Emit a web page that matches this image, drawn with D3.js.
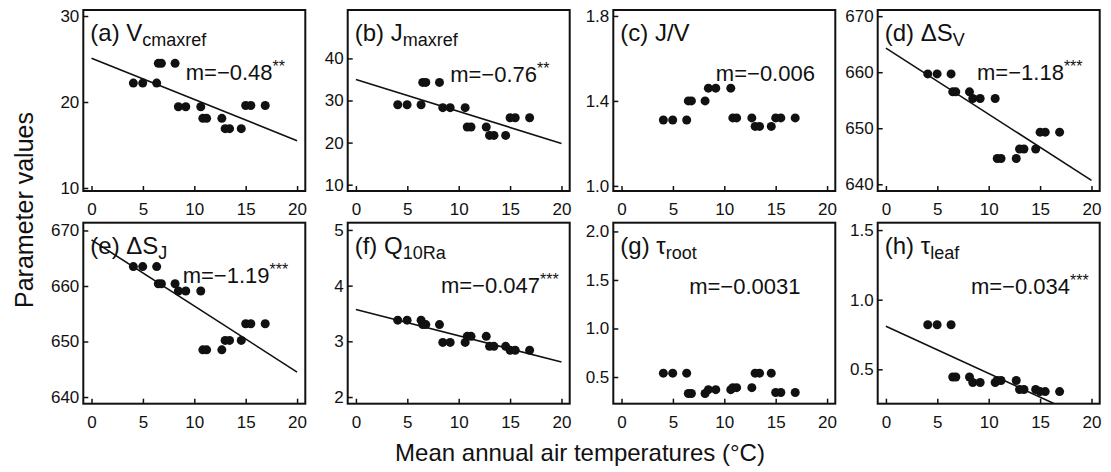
<!DOCTYPE html>
<html>
<head>
<meta charset="utf-8">
<script src="https://cdn.jsdelivr.net/npm/d3@7"></script>
<style>
    body { margin: 0; background: #fff; }
    text { font-family: "Liberation Sans", Arial, sans-serif; fill: #111; }
</style>
</head>
<body>
<svg id="chart" width="1111" height="472"></svg>
<script>

// mean annual air temperature of each site/year (°C)
var tempC = [4.07, 4.98, 6.34, 6.5, 6.8, 8.13, 8.45, 9.17, 10.63, 10.83, 11.2, 12.68, 13.0, 13.43, 14.57, 15.0, 15.5, 16.9];

var vcmaxref = [22.2, 22.2, 22.2, 24.5, 24.5, 24.5, 19.45, 19.45, 19.45, 18.1, 18.1, 18.1, 16.9, 16.9, 16.9, 19.6, 19.6, 19.6];
var jmaxref = [29.0, 29.0, 29.0, 34.3, 34.3, 34.3, 28.3, 28.3, 28.3, 23.7, 23.7, 23.7, 21.7, 21.7, 21.7, 25.9, 25.9, 25.9];
var jvRatio = [1.31, 1.31, 1.31, 1.40, 1.40, 1.40, 1.46, 1.46, 1.46, 1.32, 1.32, 1.32, 1.28, 1.28, 1.28, 1.32, 1.32, 1.32];
var deltaSv = [659.7, 659.7, 659.7, 656.5, 656.5, 656.5, 655.3, 655.3, 655.3, 644.6, 644.6, 644.6, 646.3, 646.3, 646.3, 649.3, 649.3, 649.3];
var deltaSj = [663.5, 663.5, 663.5, 660.4, 660.4, 660.4, 659.1, 659.1, 659.1, 648.5, 648.5, 648.5, 650.2, 650.2, 650.2, 653.2, 653.2, 653.2];
var q10Ra = [3.38, 3.38, 3.38, 3.30, 3.30, 3.30, 2.98, 2.98, 2.98, 3.09, 3.09, 3.09, 2.91, 2.91, 2.91, 2.84, 2.84, 2.84];
var tauRoot = [0.54, 0.54, 0.54, 0.33, 0.33, 0.33, 0.37, 0.37, 0.37, 0.39, 0.39, 0.39, 0.54, 0.54, 0.54, 0.34, 0.34, 0.34];
var tauLeaf = [0.82, 0.82, 0.82, 0.445, 0.445, 0.445, 0.405, 0.405, 0.405, 0.42, 0.42, 0.42, 0.355, 0.355, 0.355, 0.34, 0.34, 0.34];

var panelLetters = ["a", "b", "c", "d", "e", "f", "g", "h"];
var panelMain = ["V", "J", "J/V", "ΔS", "ΔS", "Q", "τ", "τ"];
var panelSub = ["cmaxref", "maxref", "", "V", "J", "10Ra", "root", "leaf"];
var panelValues = [vcmaxref, jmaxref, jvRatio, deltaSv, deltaSj, q10Ra, tauRoot, tauLeaf];

// regression fits: intercept and slope (null when not significant)
var fitIntercept = [25.1, 35.0, null, 664.3, 668.3, 3.57, null, 0.81];
var fitSlope = [-0.48, -0.76, -0.006, -1.18, -1.19, -0.047, -0.0031, -0.034];
var slopeLabel = ["m=−0.48", "m=−0.76", "m=−0.006", "m=−1.18", "m=−1.19", "m=−0.047", "m=−0.0031", "m=−0.034"];
var slopeStars = ["**", "**", "", "***", "***", "***", "", "***"];
var slopeLabelX = [14, 14, 14, 14, 14, 14, 12, 14];
var slopeLabelY = [23.5, 36.4, 1.53, 660.0, 662.0, 4.02, 1.44, 1.10];

var yDomains = [[9.65, 30.7], [8.5, 51.5], [0.976, 1.828], [638.8, 671.1], [638.8, 671.4], [1.88, 5.13], [0.225, 2.09], [0.253, 1.553]];
var yTicks = [[10, 20, 30], [10, 20, 30, 40], [1.0, 1.4, 1.8], [640, 650, 660, 670], [640, 650, 660, 670], [2, 3, 4, 5], [0.5, 1.0, 1.5, 2.0], [0.5, 1.0, 1.5]];
var yTickLabels = [["10", "20", "30"], ["10", "20", "30", "40"], ["1.0", "1.4", "1.8"], ["640", "650", "660", "670"], ["640", "650", "660", "670"], ["2", "3", "4", "5"], ["0.5", "1.0", "1.5", "2.0"], ["0.5", "1.0", "1.5"]];
var xTicks = [0, 5, 10, 15, 20];
var xDomain = [-0.8, 20.8];

var svg = d3.select("#chart");
var panelW = 222, panelH = 181;
var panelLeft = [83.3, 347.7, 613.3, 877.7];
var panelTop = [10, 222.7];

panelLetters.forEach(function (letter, i) {
    var col = i % 4, row = Math.floor(i / 4);
    var g = svg.append("g").attr("transform", "translate(" + panelLeft[col] + "," + panelTop[row] + ")");

    var x = d3.scaleLinear().domain(xDomain).range([0, panelW]);
    var y = d3.scaleLinear().domain(yDomains[i]).range([panelH, 0]);

    g.append("clipPath").attr("id", "clip" + letter)
        .append("rect").attr("width", panelW).attr("height", panelH);

    // ticks inward, like R tcl > 0
    var yAxis = d3.axisLeft(y).tickValues(yTicks[i]).tickSize(-5).tickPadding(4)
        .tickFormat(function (d, k) { return yTickLabels[i][k]; });
    var xAxis = d3.axisBottom(x).tickValues(xTicks).tickSize(-5).tickPadding(12);

    var ya = g.append("g").call(yAxis);
    var xa = g.append("g").attr("transform", "translate(0," + panelH + ")").call(xAxis);
    [ya, xa].forEach(function (a) {
        a.select(".domain").remove();
        a.selectAll("line").attr("stroke", "#111").attr("stroke-width", 1.5);
        a.selectAll("text").style("font-size", "17px").attr("fill", "#111");
    });

    g.append("rect").attr("width", panelW).attr("height", panelH)
        .attr("fill", "none").attr("stroke", "#111").attr("stroke-width", 2);

    if (fitIntercept[i] != null) {
        g.append("line")
            .attr("clip-path", "url(#clip" + letter + ")")
            .attr("x1", x(0)).attr("y1", y(fitIntercept[i]))
            .attr("x2", x(20)).attr("y2", y(fitIntercept[i] + 20 * fitSlope[i]))
            .attr("stroke", "#111").attr("stroke-width", 1.6);
    }

    g.selectAll("circle.pt").data(panelValues[i]).enter().append("circle")
        .attr("class", "pt")
        .attr("cx", function (d, k) { return x(tempC[k]); })
        .attr("cy", function (d) { return y(d); })
        .attr("r", 4.5).attr("fill", "#111");

    var title = g.append("text").attr("x", 7).attr("y", 31).style("font-size", "24px");
    title.append("tspan").text("(" + letter + ") " + panelMain[i]);
    if (panelSub[i] != "")
        title.append("tspan").attr("dy", 5).style("font-size", "18px").text(panelSub[i]);

    var m = g.append("text")
        .attr("x", x(slopeLabelX[i])).attr("y", y(slopeLabelY[i]))
        .attr("text-anchor", "middle").attr("dominant-baseline", "central")
        .style("font-size", "22px");
    m.append("tspan").text(slopeLabel[i]);
    if (slopeStars[i] != "")
        m.append("tspan").attr("dy", -6).style("font-size", "16px").text(slopeStars[i]);
});

svg.append("text").attr("x", 580).attr("y", 461).attr("text-anchor", "middle")
    .style("font-size", "24px").text("Mean annual air temperatures (°C)");

svg.append("text").attr("transform", "translate(33,210) rotate(-90)").attr("text-anchor", "middle")
    .style("font-size", "25px").text("Parameter values");

</script>
</body>
</html>
